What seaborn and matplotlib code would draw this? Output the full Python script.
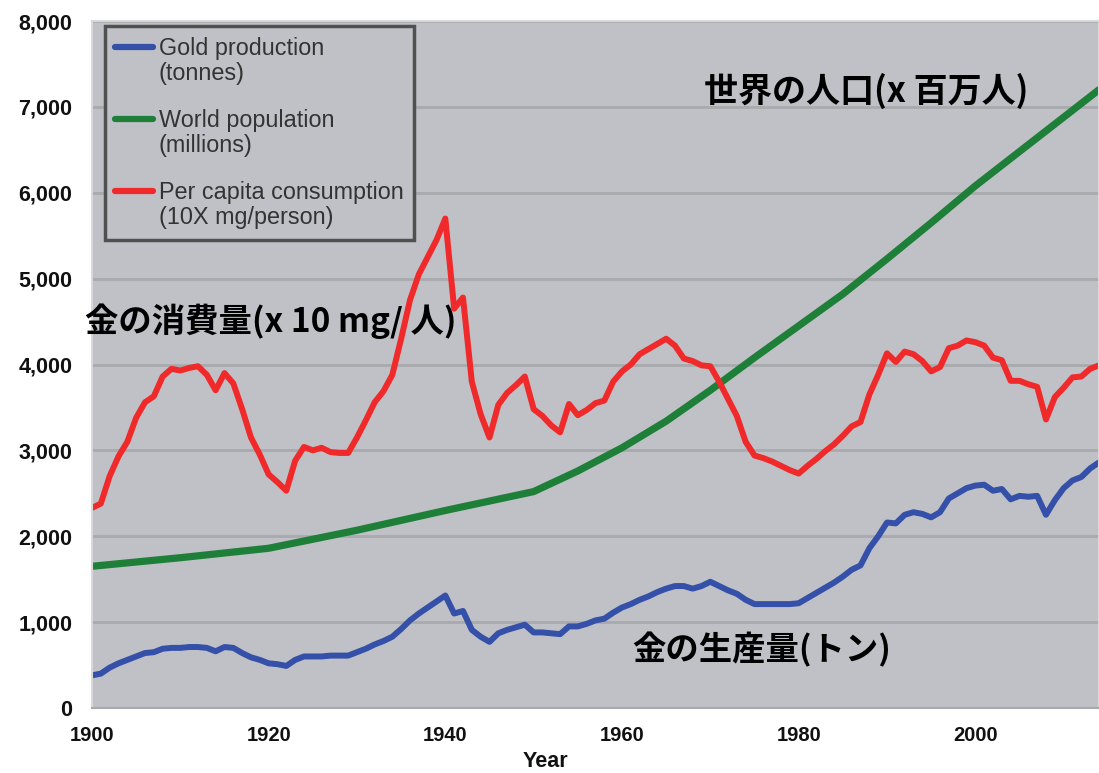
import numpy as np
import pandas as pd
import matplotlib
matplotlib.use('Agg')
import matplotlib.pyplot as plt
import seaborn as sns
from matplotlib.ticker import FuncFormatter
from matplotlib.legend_handler import HandlerLine2D

# yearly series 1900-2014
years = list(range(1900, 2015))

gold_production = [
    380, 400, 470, 520, 560, 600, 640, 650, 690, 700,          # 1900s
    700, 710, 710, 700, 660, 710, 700, 640, 590, 560,          # 1910s
    520, 510, 490, 560, 600, 600, 600, 610, 610, 610,          # 1920s
    650, 690, 740, 780, 830, 920, 1020, 1100, 1170, 1240,      # 1930s
    1310, 1100, 1130, 910, 830, 770, 870, 910, 940, 970,       # 1940s
    880, 880, 870, 860, 950, 950, 980, 1020, 1040, 1110,       # 1950s
    1170, 1210, 1260, 1300, 1350, 1390, 1420, 1420, 1390, 1420,  # 1960s
    1470, 1420, 1370, 1330, 1260, 1210, 1210, 1210, 1210, 1210,  # 1970s
    1220, 1280, 1340, 1400, 1460, 1530, 1610, 1660, 1860, 2000,  # 1980s
    2160, 2150, 2250, 2280, 2260, 2220, 2280, 2440, 2500, 2560,  # 1990s
    2590, 2600, 2530, 2550, 2430, 2470, 2460, 2470, 2250, 2420,  # 2000s
    2560, 2650, 2690, 2790, 2860,                                # 2010s
]

per_capita = [
    2330, 2380, 2700, 2930, 3100, 3380, 3560, 3630, 3860, 3950,
    3930, 3960, 3980, 3880, 3700, 3900, 3780, 3480, 3150, 2950,
    2720, 2630, 2530, 2880, 3040, 3000, 3030, 2980, 2970, 2970,
    3150, 3350, 3560, 3690, 3880, 4300, 4750, 5050, 5250, 5450,
    5700, 4650, 4780, 3800, 3420, 3150, 3530, 3670, 3760, 3860,
    3480, 3400, 3290, 3210, 3540, 3410, 3470, 3550, 3580, 3800,
    3920, 4000, 4120, 4180, 4240, 4300, 4220, 4070, 4040, 3990,
    3980, 3800, 3600, 3400, 3100, 2940, 2910, 2870, 2820, 2770,
    2730, 2820, 2900, 2990, 3070, 3170, 3280, 3330, 3650, 3880,
    4130, 4030, 4150, 4120, 4040, 3920, 3970, 4190, 4220, 4280,
    4260, 4220, 4080, 4050, 3810, 3810, 3770, 3740, 3360, 3620,
    3730, 3850, 3860, 3950, 3990,
]

pop_years = [1900, 1910, 1920, 1930, 1940, 1950, 1955, 1960, 1965, 1970,
             1975, 1980, 1985, 1990, 1995, 2000, 2005, 2010, 2014]
population = [1650, 1750, 1860, 2070, 2300, 2520, 2760, 3030, 3340, 3700,
              4080, 4450, 4820, 5230, 5650, 6080, 6480, 6880, 7200]

labels = ['Gold production\n(tonnes)', 'World population\n(millions)',
          'Per capita consumption\n(10X mg/person)']
colors = ['#3450A8', '#1E8038', '#F02A2A']

gold_df = pd.DataFrame({'Year': years, 'value': gold_production})
cons_df = pd.DataFrame({'Year': years, 'value': per_capita})
pop_df = pd.DataFrame({'Year': pop_years, 'value': population})


class FirstLineHandler(HandlerLine2D):
    # put the legend line next to the first line of a two-line label
    def create_artists(self, legend, orig_handle, xdescent, ydescent,
                       width, height, fontsize, trans):
        artists = super().create_artists(legend, orig_handle, xdescent, ydescent,
                                         width, height, fontsize, trans)
        for a in artists:
            a.set_ydata([v + 0.62 * fontsize for v in a.get_ydata()])
        return artists


sns.set_style('white')
plt.rcParams['font.family'] = ['Liberation Sans', 'DejaVu Sans']

fig = plt.figure(figsize=(10.99, 7.73), dpi=100)
ax = fig.add_axes([0.0837, 0.0841, 0.9163, 0.8887])
ax.set_facecolor('#C0C1C6')

for y in range(1000, 8001, 1000):
    ax.axhline(y, color='#A9AAAE', lw=2, zorder=0.5)

sns.lineplot(data=gold_df, x='Year', y='value', ax=ax, color=colors[0],
             lw=4.3, label=labels[0])
sns.lineplot(data=pop_df, x='Year', y='value', ax=ax, color=colors[1],
             lw=5.2, label=labels[1])
sns.lineplot(data=cons_df, x='Year', y='value', ax=ax, color=colors[2],
             lw=4.3, label=labels[2])

ax.set_xlim(1900, 2014)
ax.set_ylim(0, 8000)
ax.set_xticks(range(1900, 2001, 20))
ax.set_yticks(range(0, 8001, 1000))
ax.yaxis.set_major_formatter(FuncFormatter(lambda v, p: f'{int(v):,}'))
ax.tick_params(axis='y', length=7, width=1, color='#A0A0A0', pad=7,
               labelsize=15.5, labelcolor='#111111')
ax.tick_params(axis='x', length=5, width=1, color='#A0A0A0', pad=8,
               labelsize=14.5, labelcolor='#111111')
for lab in ax.get_xticklabels() + ax.get_yticklabels():
    lab.set_fontweight('bold')

ax.set_ylabel('')
ax.set_xlabel('Year', fontsize=15.5, fontweight='bold', color='#111111')
ax.xaxis.set_label_coords(0.45, -0.063)

for side in ['left', 'top', 'right']:
    ax.spines[side].set_color('#D8D8DA')
    ax.spines[side].set_linewidth(1.5)
ax.spines['bottom'].set_color('#A9AAAE')
ax.spines['bottom'].set_linewidth(1.5)

leg = ax.legend(loc='upper left', bbox_to_anchor=(0.0129, 0.9927),
                borderaxespad=0, fontsize=16.8, labelspacing=1.0,
                handlelength=1.6, handletextpad=0.25, borderpad=0.45,
                fancybox=False, framealpha=1, facecolor='#C0C1C6',
                edgecolor='#505050',
                handler_map={matplotlib.lines.Line2D: FirstLineHandler()})
leg.get_frame().set_linewidth(2.5)
for t in leg.get_texts():
    t.set_color('#333333')
    t.set_linespacing(1.15)
for h in leg.get_lines():
    h.set_linewidth(4.5)

cjk = ['Noto Sans CJK JP', 'DejaVu Sans']
ax.text(1969.3, 7190, '世界の人口(x 百万人)', family=cjk, fontsize=24.5,
        fontweight='bold', ha='left', va='center', color='black')
ax.text(1899.2, 4510, '金の消費量(x 10 mg/ 人)', family=cjk, fontsize=24,
        fontweight='bold', ha='left', va='center', color='black', clip_on=False)
ax.text(1961.2, 680, '金の生産量(トン)', family=cjk, fontsize=24,
        fontweight='bold', ha='left', va='center', color='black')

fig.savefig('out.png', dpi=100, facecolor='white')
